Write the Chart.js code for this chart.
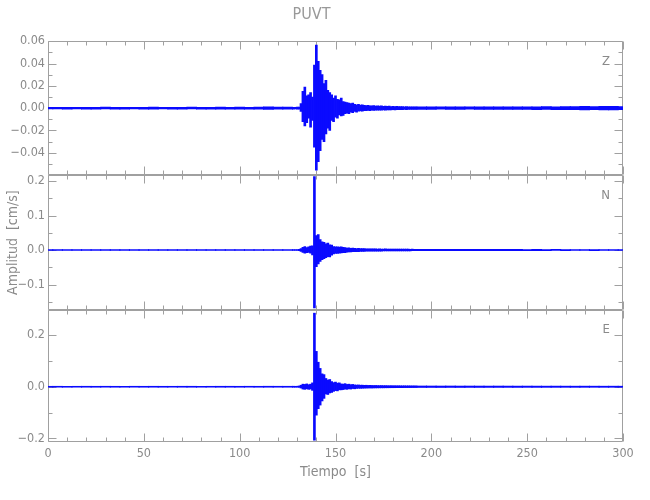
<!DOCTYPE html>
<html>
<head>
<meta charset="utf-8">
<script src="https://cdn.jsdelivr.net/npm/chart.js@4.4.1/dist/chart.umd.min.js"></script>
<style>
  html, body { margin: 0; padding: 0; background: #fff; }
  #wrap { width: 650px; height: 500px; }
</style>
</head>
<body>
<div id="wrap"><canvas id="seis" width="650" height="500"></canvas></div>
<script>
// ---- data (min/max of the trace per time bin) ----
const stationName = 'PUVT';
const componentNames = ['Z', 'N', 'E'];

// 1 s bins around the event
const eventTimes = [128, 129, 130, 131, 132, 133, 134, 135, 136, 137, 138, 139, 140, 141, 142, 143, 144, 145, 146, 147,
  148, 149, 150, 151, 152, 153, 154, 155, 156, 157, 158, 159, 160, 161, 162, 163, 164, 165, 166, 167,
  168, 169, 170, 171, 172, 173, 174, 175, 176, 177, 178, 179, 180, 181, 182, 183, 184, 185, 186, 187,
  188, 189, 190, 191, 192];
// 5 s bins for the quiet parts
const preTimes = [0, 5, 10, 15, 20, 25, 30, 35, 40, 45, 50, 55, 60, 65, 70, 75, 80, 85, 90, 95, 100, 105, 110, 115, 120, 125];
const postTimes = [195, 200, 205, 210, 215, 220, 225, 230, 235, 240, 245, 250, 255, 260, 265, 270, 275, 280, 285, 290, 295, 300];

// Z component
const zEventHi = [0.0008, 0.0008, 0.0009, 0.0010, 0.0040, 0.0150, 0.0190, 0.0110, 0.0120, 0.0140, 0.0100, 0.0385, 0.0565,
  0.0420, 0.0340, 0.0300, 0.0220, 0.0250, 0.0160, 0.0140, 0.0120, 0.0090, 0.0110, 0.0080, 0.0075, 0.0090, 0.0060,
  0.0055, 0.0050, 0.0045, 0.0040, 0.0045, 0.0035, 0.0030, 0.0035, 0.0028, 0.0030, 0.0025, 0.0024, 0.0026, 0.0022,
  0.0020, 0.0023, 0.0019, 0.0021, 0.0018, 0.0020, 0.0017, 0.0019, 0.0016, 0.0018, 0.0015, 0.0017, 0.0015, 0.0016,
  0.0014, 0.0015, 0.0014, 0.0013, 0.0015, 0.0013, 0.0012, 0.0013, 0.0012, 0.0012];
const zEventLo = [-0.0008, -0.0007, -0.0008, -0.0009, -0.0030, -0.0120, -0.0160, -0.0130, -0.0090, -0.0170, -0.0110, -0.0350,
  -0.0555, -0.0480, -0.0380, -0.0280, -0.0300, -0.0230, -0.0180, -0.0200, -0.0110, -0.0120, -0.0080, -0.0090, -0.0060,
  -0.0070, -0.0065, -0.0050, -0.0045, -0.0050, -0.0035, -0.0040, -0.0030, -0.0035, -0.0028, -0.0025, -0.0026, -0.0022,
  -0.0023, -0.0021, -0.0022, -0.0019, -0.0020, -0.0018, -0.0019, -0.0017, -0.0018, -0.0016, -0.0017, -0.0015, -0.0016,
  -0.0015, -0.0014, -0.0015, -0.0014, -0.0013, -0.0014, -0.0013, -0.0012, -0.0013, -0.0012, -0.0012, -0.0011, -0.0012, -0.0011];
const zPreHi = [0.0007, 0.0008, 0.0007, 0.0008, 0.0008, 0.0007, 0.0009, 0.0008, 0.0007, 0.0008, 0.0008, 0.0009, 0.0008,
  0.0007, 0.0008, 0.0009, 0.0008, 0.0008, 0.0009, 0.0008, 0.0009, 0.0008, 0.0009, 0.0013, 0.0009, 0.0009];
const zPreLo = [-0.0007, -0.0007, -0.0008, -0.0007, -0.0008, -0.0008, -0.0007, -0.0008, -0.0008, -0.0007, -0.0008, -0.0008,
  -0.0007, -0.0008, -0.0008, -0.0007, -0.0008, -0.0009, -0.0008, -0.0008, -0.0008, -0.0009, -0.0009, -0.0011, -0.0008, -0.0009];
const zPostHi = [0.0012, 0.0011, 0.0012, 0.0011, 0.0012, 0.0012, 0.0011, 0.0012, 0.0013, 0.0012, 0.0012, 0.0013, 0.0012,
  0.0014, 0.0013, 0.0015, 0.0014, 0.0016, 0.0015, 0.0017, 0.0016, 0.0015];
const zPostLo = [-0.0011, -0.0011, -0.0010, -0.0011, -0.0011, -0.0010, -0.0011, -0.0011, -0.0012, -0.0011, -0.0012, -0.0012,
  -0.0013, -0.0012, -0.0013, -0.0014, -0.0013, -0.0015, -0.0014, -0.0016, -0.0015, -0.0014];

// N component
const nEventHi = [0.0012, 0.0012, 0.0013, 0.0020, 0.0045, 0.0080, 0.0100, 0.0070, 0.0090, 0.0115, 0.0120, 0.2125,
  0.0420, 0.0450, 0.0300, 0.0240, 0.0220, 0.0180, 0.0200, 0.0150, 0.0140, 0.0100, 0.0095, 0.0090, 0.0085, 0.0095,
  0.0075, 0.0070, 0.0055, 0.0060, 0.0050, 0.0055, 0.0048, 0.0045, 0.0050, 0.0042, 0.0045, 0.0040, 0.0038, 0.0036,
  0.0035, 0.0033, 0.0035, 0.0032, 0.0030, 0.0032, 0.0030, 0.0029, 0.0031, 0.0028, 0.0029, 0.0027, 0.0028, 0.0026,
  0.0027, 0.0026, 0.0025, 0.0026, 0.0024, 0.0025, 0.0024, 0.0023, 0.0024, 0.0023, 0.0022];
const nEventLo = [-0.0012, -0.0011, -0.0012, -0.0018, -0.0040, -0.0070, -0.0090, -0.0080, -0.0070, -0.0090, -0.0140, -0.1680,
  -0.0480, -0.0400, -0.0330, -0.0280, -0.0250, -0.0220, -0.0190, -0.0200, -0.0150, -0.0110, -0.0100, -0.0095, -0.0090,
  -0.0085, -0.0080, -0.0075, -0.0060, -0.0055, -0.0055, -0.0050, -0.0050, -0.0045, -0.0045, -0.0040, -0.0042, -0.0038,
  -0.0036, -0.0035, -0.0034, -0.0033, -0.0032, -0.0032, -0.0031, -0.0030, -0.0030, -0.0029, -0.0028, -0.0028, -0.0027,
  -0.0027, -0.0026, -0.0026, -0.0025, -0.0025, -0.0025, -0.0024, -0.0024, -0.0023, -0.0023, -0.0023, -0.0022, -0.0022, -0.0022];
const nPreHi = [0.0011, 0.0012, 0.0010, 0.0012, 0.0011, 0.0012, 0.0011, 0.0012, 0.0010, 0.0012, 0.0012, 0.0011, 0.0012,
  0.0011, 0.0012, 0.0012, 0.0011, 0.0012, 0.0012, 0.0012, 0.0011, 0.0012, 0.0012, 0.0013, 0.0012, 0.0012];
const nPreLo = [-0.0011, -0.0010, -0.0012, -0.0011, -0.0012, -0.0011, -0.0012, -0.0011, -0.0012, -0.0011, -0.0012, -0.0012,
  -0.0011, -0.0012, -0.0011, -0.0012, -0.0012, -0.0011, -0.0012, -0.0012, -0.0012, -0.0011, -0.0012, -0.0012, -0.0012, -0.0012];
const nPostHi = [0.0020, 0.0019, 0.0020, 0.0018, 0.0019, 0.0018, 0.0019, 0.0017, 0.0018, 0.0017, 0.0018, 0.0016, 0.0017,
  0.0016, 0.0017, 0.0016, 0.0015, 0.0016, 0.0015, 0.0016, 0.0015, 0.0014];
const nPostLo = [-0.0019, -0.0020, -0.0018, -0.0019, -0.0018, -0.0018, -0.0017, -0.0018, -0.0017, -0.0017, -0.0016, -0.0017,
  -0.0016, -0.0016, -0.0015, -0.0016, -0.0015, -0.0015, -0.0016, -0.0014, -0.0015, -0.0014];

// E component
const eEventHi = [0.0020, 0.0018, 0.0020, 0.0030, 0.0060, 0.0100, 0.0090, 0.0110, 0.0080, 0.0100, 0.0150, 0.2850,
  0.1370, 0.0950, 0.0710, 0.0500, 0.0470, 0.0320, 0.0260, 0.0280, 0.0200, 0.0160, 0.0180, 0.0140, 0.0150, 0.0110,
  0.0100, 0.0120, 0.0090, 0.0100, 0.0080, 0.0090, 0.0070, 0.0065, 0.0070, 0.0060, 0.0062, 0.0055, 0.0058, 0.0052,
  0.0055, 0.0050, 0.0048, 0.0050, 0.0046, 0.0045, 0.0047, 0.0043, 0.0044, 0.0042, 0.0040, 0.0042, 0.0039, 0.0040,
  0.0038, 0.0039, 0.0037, 0.0036, 0.0038, 0.0035, 0.0036, 0.0035, 0.0034, 0.0035, 0.0033];
const eEventLo = [-0.0020, -0.0020, -0.0018, -0.0025, -0.0050, -0.0090, -0.0100, -0.0080, -0.0100, -0.0090, -0.0140, -0.2070,
  -0.1100, -0.0850, -0.0710, -0.0550, -0.0450, -0.0280, -0.0300, -0.0240, -0.0220, -0.0180, -0.0150, -0.0160, -0.0120,
  -0.0120, -0.0110, -0.0090, -0.0100, -0.0080, -0.0090, -0.0070, -0.0080, -0.0065, -0.0060, -0.0062, -0.0058, -0.0055,
  -0.0052, -0.0050, -0.0048, -0.0050, -0.0046, -0.0045, -0.0044, -0.0043, -0.0042, -0.0042, -0.0040, -0.0040, -0.0039,
  -0.0038, -0.0038, -0.0037, -0.0036, -0.0036, -0.0035, -0.0035, -0.0034, -0.0034, -0.0033, -0.0033, -0.0032, -0.0032, -0.0031];
const ePreHi = [0.0018, 0.0019, 0.0017, 0.0018, 0.0019, 0.0018, 0.0019, 0.0018, 0.0017, 0.0019, 0.0018, 0.0019, 0.0018,
  0.0018, 0.0019, 0.0019, 0.0017, 0.0018, 0.0019, 0.0019, 0.0018, 0.0019, 0.0018, 0.0020, 0.0019, 0.0019];
const ePreLo = [-0.0018, -0.0017, -0.0019, -0.0017, -0.0018, -0.0019, -0.0017, -0.0019, -0.0018, -0.0017, -0.0019, -0.0018,
  -0.0019, -0.0017, -0.0018, -0.0019, -0.0018, -0.0017, -0.0019, -0.0018, -0.0019, -0.0017, -0.0019, -0.0019, -0.0018, -0.0019];
const ePostHi = [0.0030, 0.0029, 0.0028, 0.0029, 0.0027, 0.0028, 0.0027, 0.0026, 0.0027, 0.0026, 0.0025, 0.0026, 0.0025,
  0.0024, 0.0025, 0.0024, 0.0023, 0.0024, 0.0023, 0.0022, 0.0023, 0.0022];
const ePostLo = [-0.0029, -0.0028, -0.0029, -0.0027, -0.0028, -0.0026, -0.0027, -0.0026, -0.0026, -0.0025, -0.0026, -0.0024,
  -0.0025, -0.0024, -0.0024, -0.0023, -0.0024, -0.0023, -0.0022, -0.0023, -0.0022, -0.0022];

// axis ranges and tick labels
const timeRange = [0, 300];
const timeTicks = [0, 50, 100, 150, 200, 250, 300];
const zRange = [-0.06, 0.06];
const nRange = [-0.174, 0.217];
const eRange = [-0.214, 0.297];
const zTicks = [-0.04, -0.02, 0, 0.02, 0.04, 0.06];
const nTicks = [-0.1, 0, 0.1, 0.2];
const eTicks = [-0.2, 0, 0.2];

// ---- styling ----
const FONT = "'Liberation Sans Narrow', 'DejaVu Sans Condensed', 'Liberation Sans', sans-serif";
const AXIS_COLOR = '#a0a0a0';
const TEXT_COLOR = '#8a8a8a';
const TRACE = 'rgb(10, 10, 255)';

const panels = [
  {id: 'yZ', name: componentNames[0], ticks: zTicks, major: 0.02, minor: 0.01, digits: 2},
  {id: 'yN', name: componentNames[1], ticks: nTicks, major: 0.1, minor: 0.05, digits: 1},
  {id: 'yE', name: componentNames[2], ticks: eTicks, major: 0.2, minor: 0.1, digits: 1}
];

function traceSet(times, lo, hi, axis, thick) {
  return {
    data: times.map((t, i) => ({x: t, y: [lo[i], hi[i]]})),
    xAxisID: 'x',
    yAxisID: axis,
    backgroundColor: TRACE,
    borderWidth: 0,
    barThickness: thick,
    grouped: false
  };
}

function fmt(digits) {
  return v => (v < 0 ? '\u2212' : '') + Math.abs(v).toFixed(digits);
}

function yScale(range, ticks, digits, weight, withTitle) {
  return {
    type: 'linear',
    position: 'left',
    stack: 'panels',
    stackWeight: weight,
    min: range[0],
    max: range[1],
    grid: {display: false, drawTicks: false},
    border: {display: false},
    afterBuildTicks: s => { s.ticks = ticks.map(v => ({value: v})); },
    afterFit: s => { s.width = 48; },
    ticks: {
      autoSkip: false,
      padding: 3,
      color: TEXT_COLOR,
      font: {family: FONT, size: 12.5},
      callback: fmt(digits)
    },
    title: {
      display: withTitle,
      text: 'Amplitud  [cm/s]',
      color: TEXT_COLOR,
      font: {family: FONT, size: 14},
      padding: {top: 4.6, bottom: 0}
    }
  };
}

// draws the IDL-like frames with inward ticks and the component letters
const frameTicks = {
  id: 'frameTicks',
  beforeDatasetsDraw(chart) {
    const {ctx, chartArea} = chart;
    const xs = chart.scales.x;
    const L = Math.round(chartArea.left) + 0.5;
    const R = Math.round(chartArea.right) - 0.5;
    ctx.save();
    ctx.strokeStyle = AXIS_COLOR;
    ctx.lineWidth = 1;
    ctx.beginPath();
    panels.forEach(p => {
      const s = chart.scales[p.id];
      const T = Math.round(s.top) + 0.5;
      const B = Math.round(s.bottom) - 0.5;
      ctx.moveTo(L, T); ctx.lineTo(R, T); ctx.lineTo(R, B); ctx.lineTo(L, B); ctx.closePath();
      // y ticks (left and right, pointing inward)
      const start = Math.ceil(s.min / p.minor - 1e-6);
      const end = Math.floor(s.max / p.minor + 1e-6);
      for (let k = start; k <= end; k++) {
        const v = k * p.minor;
        const isMajor = Math.abs(v / p.major - Math.round(v / p.major)) < 1e-6;
        const len = isMajor ? 8 : 4;
        const y = Math.round(s.getPixelForValue(v)) + 0.5;
        ctx.moveTo(L, y); ctx.lineTo(L + len, y);
        ctx.moveTo(R, y); ctx.lineTo(R - len, y);
      }
      // x ticks (top and bottom of each panel)
      for (let t = timeRange[0]; t <= timeRange[1]; t += 10) {
        const len = t % 50 === 0 ? 8 : 4;
        const x = Math.round(xs.getPixelForValue(t)) + 0.5;
        ctx.moveTo(x, T); ctx.lineTo(x, T + len);
        ctx.moveTo(x, B); ctx.lineTo(x, B - len);
      }
    });
    ctx.stroke();
    ctx.restore();
  },
  afterDraw(chart) {
    const {ctx, chartArea} = chart;
    ctx.save();
    ctx.fillStyle = TEXT_COLOR;
    ctx.font = '13px ' + FONT;
    ctx.textAlign = 'right';
    ctx.textBaseline = 'middle';
    panels.forEach(p => {
      const s = chart.scales[p.id];
      ctx.fillText(p.name, chartArea.right - 13, s.top + 20);
    });
    ctx.restore();
  }
};

new Chart(document.getElementById('seis'), {
  type: 'bar',
  data: {
    datasets: [
      traceSet(preTimes, zPreLo, zPreHi, 'yZ', 10),
      traceSet(eventTimes, zEventLo, zEventHi, 'yZ', 2),
      traceSet(postTimes, zPostLo, zPostHi, 'yZ', 10),
      traceSet(preTimes, nPreLo, nPreHi, 'yN', 10),
      traceSet(eventTimes, nEventLo, nEventHi, 'yN', 2),
      traceSet(postTimes, nPostLo, nPostHi, 'yN', 10),
      traceSet(preTimes, ePreLo, ePreHi, 'yE', 10),
      traceSet(eventTimes, eEventLo, eEventHi, 'yE', 2),
      traceSet(postTimes, ePostLo, ePostHi, 'yE', 10)
    ]
  },
  options: {
    responsive: false,
    animation: false,
    devicePixelRatio: 1,
    layout: {padding: {left: 0, right: 27, top: 0, bottom: 0}},
    plugins: {
      legend: {display: false},
      tooltip: {enabled: false},
      title: {
        display: true,
        text: stationName,
        color: '#999',
        font: {family: FONT, size: 16, weight: 'normal'},
        padding: {top: 5, bottom: 17}
      }
    },
    scales: {
      x: {
        type: 'linear',
        position: 'bottom',
        min: timeRange[0],
        max: timeRange[1],
        offset: false,
        grid: {display: false, drawTicks: false, offset: false},
        border: {display: false},
        afterBuildTicks: s => { s.ticks = timeTicks.map(v => ({value: v})); },
        afterFit: s => { s.height = 58; },
        ticks: {autoSkip: false, maxRotation: 0, padding: 4, color: TEXT_COLOR, font: {family: FONT, size: 12.5}},
        title: {
          display: true,
          text: 'Tiempo  [s]',
          color: TEXT_COLOR,
          font: {family: FONT, size: 14},
          padding: {top: 0, bottom: 19.6}
        }
      },
      // last declared sits on top of the stack
      yE: yScale(eRange, eTicks, 1, 132, false),
      yN: yScale(nRange, nTicks, 1, 135, true),
      yZ: yScale(zRange, zTicks, 2, 134, false)
    }
  },
  plugins: [frameTicks]
});
</script>
</body>
</html>
